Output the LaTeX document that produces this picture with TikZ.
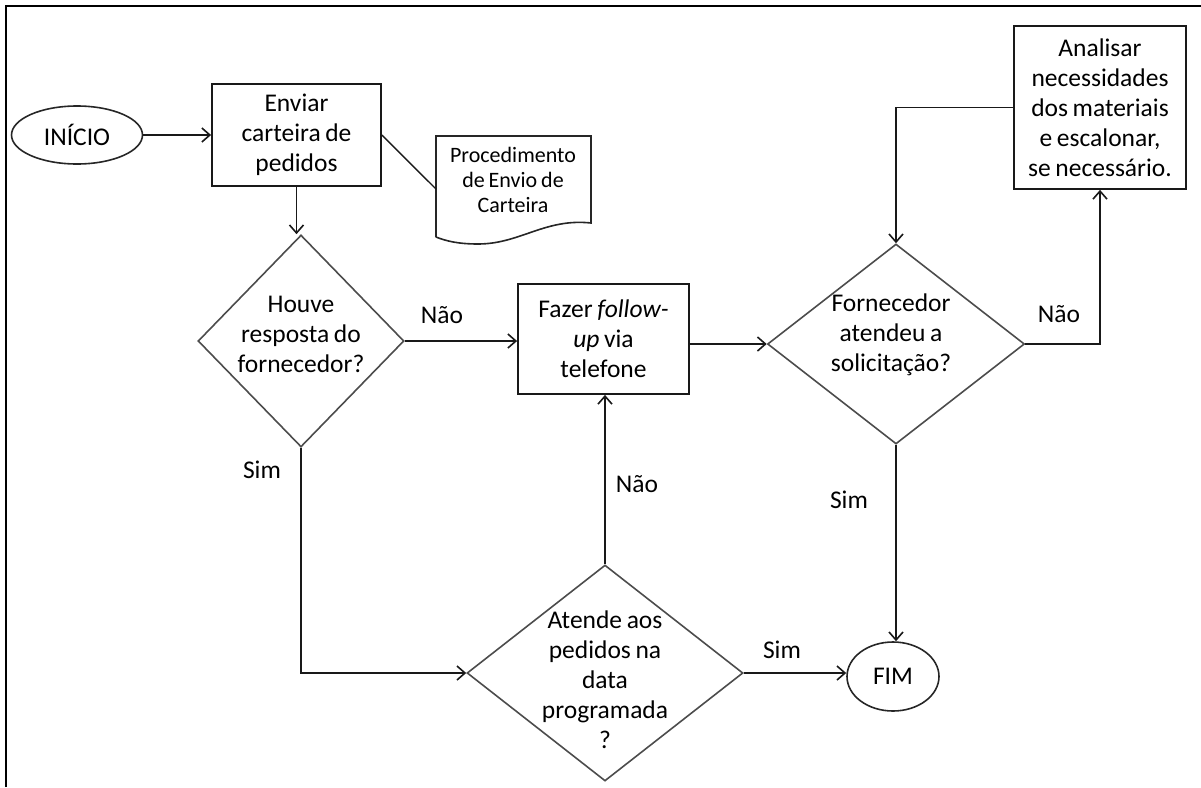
\documentclass[tikz,border=0pt]{standalone}
\usepackage{fontspec}
\setmainfont[WordSpace={0.8,0.5,0.3}]{Carlito}
\usetikzlibrary{shapes.geometric,arrows.meta}
\begin{document}
\begin{tikzpicture}[x=1pt,y=-1pt,
  font=\fontsize{25.5}{30}\selectfont,
  conn/.style={line width=1.8pt, draw=black!90},
  arr/.style={conn, -{Straight Barb[length=8pt,width=14pt,line width=1.6pt]}},
  procbox/.style={draw=black!90, line width=1.8pt, rectangle, inner sep=0pt, align=center},
  decision/.style={draw=black!70, line width=1.6pt, diamond, inner sep=0pt},
  terminal/.style={draw=black!85, line width=1.6pt, ellipse, inner sep=0pt},
  lbl/.style={inner sep=0pt},
  txt/.style={align=center, inner sep=0pt}]

% page and the visible part of the outer frame
\useasboundingbox (0,0) rectangle (1201,787);
\draw[line width=2pt] (6,787) -- (6,6) -- (1201,6);

% start / end
\node[terminal, minimum width=131pt, minimum height=58pt] (inicio) at (77,135) {INÍCIO};
\node[terminal, minimum width=92pt, minimum height=69pt] (fim) at (893,676.5) {FIM};

% process boxes
\node[procbox, minimum width=169pt, minimum height=102pt] (enviar) at (296.5,135)
  {Enviar\\carteira de\\pedidos};
\node[procbox, minimum width=171pt, minimum height=110pt] (fazer) at (603.5,339)
  {Fazer \textit{follow-}\\\textit{up} via\\telefone};
\node[procbox, minimum width=172pt, minimum height=163pt] (anal) at (1100,107.5)
  {Analisar\\necessidades\\dos materiais\\e escalonar,\\se necessário.};

% document shape
\draw[line width=1.6pt, draw=black!85]
  (436,237) -- (436,136) -- (591,136) -- (591,223)
  .. controls (545,218) and (520,244) .. (478,244)
  .. controls (458,244) and (446,241) .. (436,237);
\node[txt, font=\fontsize{22}{25}\selectfont] (doc) at (513,180)
  {Procedimento\\de Envio de\\Carteira};
\coordinate (docin) at (436,189);

% decisions
\node[decision, minimum width=206pt, minimum height=212pt] (houve) at (301,341) {};
\node[txt] (houvetxt) at (301,334) {Houve\\resposta do\\fornecedor?};
\node[decision, minimum width=257pt, minimum height=200pt] (forn) at (896,344) {};
\node[txt] (forntxt) at (891,335) {Fornecedor\\atendeu a\\solicitação?};
\node[decision, minimum width=276pt, minimum height=216pt] (atende) at (605,673) {};
\node[txt] (atendetxt) at (605,680) {Atende aos\\pedidos na\\data\\programada\\?};

% connectors
\draw[arr] (inicio.east) -- (enviar.west);
\draw[conn, line width=1.4pt] (enviar.east) -- (docin);
\draw[arr] (enviar.south) -- (enviar.south |- houve.north);
\draw[arr] (houve.east) -- (houve.east -| fazer.west);
\draw[arr] (houve.south) |- (atende.west);
\draw[arr] (atende.north) -- (atende.north |- fazer.south);
\draw[arr] (fazer.east |- forn.west) -- (forn.west);
\draw[arr] (forn.east) -| (anal.south);
\draw[arr] (anal.west) -| (forn.north);
\draw[arr] (forn.south) -- (forn.south |- fim.north);
\draw[arr] (atende.east) -- (atende.east -| fim.west);

% branch labels
\node[lbl] (nao1) at (442,315) {Não};
\node[lbl] (sim1) at (262,470) {Sim};
\node[lbl] (nao2) at (637,484) {Não};
\node[lbl] (sim2) at (849,500) {Sim};
\node[lbl] (nao3) at (1059,314) {Não};
\node[lbl] (sim3) at (782,650) {Sim};
\end{tikzpicture}
\end{document}
